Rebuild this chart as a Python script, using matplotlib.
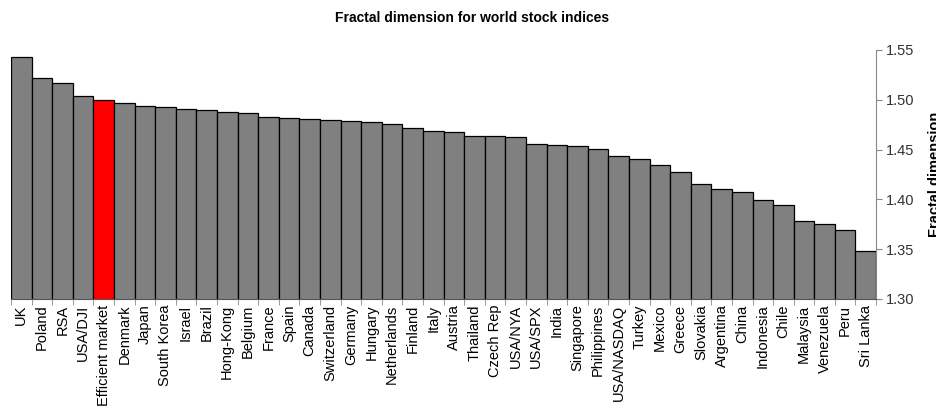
import numpy as np
import matplotlib.pyplot as plt

plt.rcParams['font.family'] = ['Liberation Sans', 'DejaVu Sans']

paises = ['UK', 'Poland', 'RSA', 'USA/DJI', 'Efficient market', 'Denmark', 'Japan',
          'South Korea', 'Israel', 'Brazil', 'Hong-Kong', 'Belgium', 'France', 'Spain',
          'Canada', 'Switzerland', 'Germany', 'Hungary', 'Netherlands', 'Finland', 'Italy',
          'Austria', 'Thailand', 'Czech Rep', 'USA/NYA', 'USA/SPX', 'India', 'Singapore',
          'Philippines', 'USA/NASDAQ', 'Turkey', 'Mexico', 'Greece', 'Slovakia', 'Argentina',
          'China', 'Indonesia', 'Chile', 'Malaysia', 'Venezuela', 'Peru', 'Sri Lanka']

dimensao = [1.543, 1.522, 1.517, 1.504, 1.500, 1.497, 1.494, 1.493, 1.491, 1.490,
            1.488, 1.487, 1.483, 1.482, 1.481, 1.480, 1.479, 1.478, 1.476, 1.472,
            1.469, 1.468, 1.464, 1.464, 1.463, 1.456, 1.455, 1.454, 1.451, 1.444,
            1.440, 1.434, 1.427, 1.415, 1.410, 1.407, 1.399, 1.394, 1.378, 1.375,
            1.369, 1.348]

cores = ['#ff0000' if p == 'Efficient market' else '#808080' for p in paises]

fig = plt.figure(figsize=(9.37, 4.09), dpi=100)
ax = fig.add_axes([0.0117, 0.269, 0.9233, 0.609])

x = np.arange(len(paises))
ax.bar(x, dimensao, width=1.0, color=cores, edgecolor='black', linewidth=0.9)

ax.set_xlim(-0.5, len(paises) - 0.5)
ax.set_ylim(1.30, 1.55)
ax.set_yticks(np.arange(1.30, 1.551, 0.05))
ax.set_yticklabels([f'{v:.2f}' for v in np.arange(1.30, 1.551, 0.05)])

ax.yaxis.tick_right()
ax.tick_params(axis='y', direction='out', length=4, color='#888888', labelsize=10.5,
               labelcolor='#333333', pad=3)

ax.set_xticks(x)
ax.set_xticklabels(paises, rotation=90, fontsize=10.5)
ax.tick_params(axis='x', length=0, pad=4)
# tracinhos entre as barras
ax.set_xticks(np.arange(-0.5, len(paises), 1.0), minor=True)
ax.tick_params(axis='x', which='minor', direction='out', length=4, color='#888888')

for lado in ['left', 'top']:
    ax.spines[lado].set_visible(False)
ax.spines['right'].set_color('#888888')
ax.spines['bottom'].set_color('#555555')

fig.text(0.504, 0.956, 'Fractal dimension for world stock indices', ha='center',
         va='center', fontsize=10, fontweight='bold')
fig.text(928 / 937, 0.573, 'Fractal dimension', rotation=90, ha='left', va='center',
         fontsize=10.5, fontweight='bold')

plt.savefig('out.png', dpi=100)
